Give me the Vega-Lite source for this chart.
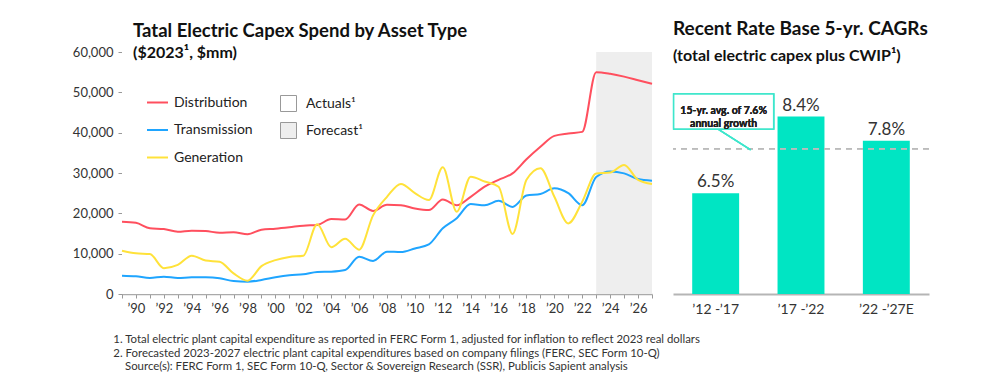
{
  "$schema": "https://vega.github.io/schema/vega-lite/v6.json",
  "background": "white",
  "padding": {"left": 72, "top": 20, "right": 0, "bottom": 0},
  "config": {
    "font": "Lato",
    "view": {"stroke": null},
    "axis": {"labelFont": "Lato", "grid": false},
    "legend": {"labelFont": "Lato"}
  },
  "title": {
    "text": [
      "1. Total electric plant capital expenditure as reported in FERC Form 1, adjusted for inflation to reflect 2023 real dollars",
      "2. Forecasted 2023-2027 electric plant capital expenditures based on company filings (FERC, SEC Form 10-Q)",
      "\u200b\u00a0\u00a0\u00a0\u00a0Source(s): FERC Form 1, SEC Form 10-Q, Sector & Sovereign Research (SSR), Publicis Sapient analysis"
    ],
    "orient": "bottom",
    "anchor": "start",
    "fontSize": 11.4,
    "fontWeight": "normal",
    "color": "#333",
    "lineHeight": 13.5,
    "offset": 18,
    "dx": 41
  },
  "spacing": 14,
  "hconcat": [
    {
      "width": 530,
      "height": 242,
      "title": {
        "text": "Tatal Electric Capex Spend by Asset Type",
        "subtitle": "($2023¹, $mm)",
        "anchor": "start",
        "frame": "group",
        "dx": 11,
        "offset": -15,
        "fontSize": 18.5,
        "fontWeight": "bold",
        "color": "#111",
        "subtitleFontSize": 16,
        "subtitleFontWeight": "bold",
        "subtitleColor": "#111",
        "subtitlePadding": 5
      },
      "resolve": {"axis": {"x": "independent"}},
      "layer": [
        {
          "data": {"values": [
            {"period": "Actuals", "start": 1989, "end": 2023},
            {"period": "Forecast", "start": 2023, "end": 2027}
          ]},
          "mark": {"type": "rect"},
          "encoding": {
            "x": {
              "field": "start", "type": "quantitative",
              "scale": {"domain": [1989, 2027], "nice": false, "zero": false},
              "axis": {
                "orient": "bottom",
                "offset": 0,
                "title": null,
                "values": [1989,1990,1991,1992,1993,1994,1995,1996,1997,1998,1999,2000,2001,2002,2003,2004,2005,2006,2007,2008,2009,2010,2011,2012,2013,2014,2015,2016,2017,2018,2019,2020,2021,2022,2023,2024,2025,2026,2027],
                "labels": false,
                "tickSize": 4,
                "tickColor": "#999",
                "domainColor": "#aaa",
                "domainWidth": 1.5
              }
            },
            "x2": {"field": "end"},
            "y": {
              "datum": 60000, "type": "quantitative",
              "scale": {"domain": [0, 60000], "nice": false},
              "axis": {
                "title": null,
                "values": [0, 10000, 20000, 30000, 40000, 50000, 60000],
                "format": ",.0f",
                "tickSize": 4,
                "tickColor": "#999",
                "domainColor": "#999",
                "labelFontSize": 13,
                "labelColor": "#333",
                "labelPadding": 5
              }
            },
            "y2": {"datum": 0},
            "fill": {
              "field": "period", "type": "nominal",
              "scale": {"domain": ["Actuals", "Forecast"], "range": ["#ffffff", "#eeeeee"]},
              "legend": {
                "orient": "none", "legendX": 158, "legendY": 43, "title": null,
                "symbolType": "square", "symbolSize": 256,
                "symbolStrokeColor": "#999", "symbolStrokeWidth": 1,
                "labelFontSize": 14, "labelColor": "#222",
                "rowPadding": 6, "labelOffset": 9,
                "labelExpr": "datum.label + '¹'"
              }
            }
          }
        },
        {
          "data": {"values": [
            {"year": 1989, "Distribution": 17900, "Transmission": 4540, "Generation": 10740},
            {"year": 1990, "Distribution": 17650, "Transmission": 4380, "Generation": 10080},
            {"year": 1991, "Distribution": 16300, "Transmission": 3970, "Generation": 9920},
            {"year": 1992, "Distribution": 16100, "Transmission": 4300, "Generation": 6400},
            {"year": 1993, "Distribution": 15450, "Transmission": 3970, "Generation": 7200},
            {"year": 1994, "Distribution": 15700, "Transmission": 4130, "Generation": 9500},
            {"year": 1995, "Distribution": 15600, "Transmission": 4130, "Generation": 8300},
            {"year": 1996, "Distribution": 15200, "Transmission": 3900, "Generation": 8000},
            {"year": 1997, "Distribution": 15300, "Transmission": 3200, "Generation": 5100},
            {"year": 1998, "Distribution": 14800, "Transmission": 3050, "Generation": 3300},
            {"year": 1999, "Distribution": 15950, "Transmission": 3470, "Generation": 6900},
            {"year": 2000, "Distribution": 16200, "Transmission": 4130, "Generation": 8400},
            {"year": 2001, "Distribution": 16550, "Transmission": 4630, "Generation": 9200},
            {"year": 2002, "Distribution": 16950, "Transmission": 4880, "Generation": 9500},
            {"year": 2003, "Distribution": 17100, "Transmission": 5450, "Generation": 17300},
            {"year": 2004, "Distribution": 18600, "Transmission": 5540, "Generation": 11600},
            {"year": 2005, "Distribution": 18500, "Transmission": 5950, "Generation": 13700},
            {"year": 2006, "Distribution": 22200, "Transmission": 9250, "Generation": 11000},
            {"year": 2007, "Distribution": 20600, "Transmission": 8200, "Generation": 19500},
            {"year": 2008, "Distribution": 22100, "Transmission": 10500, "Generation": 24100},
            {"year": 2009, "Distribution": 22000, "Transmission": 10400, "Generation": 27300},
            {"year": 2010, "Distribution": 21200, "Transmission": 11300, "Generation": 25000},
            {"year": 2011, "Distribution": 20800, "Transmission": 12300, "Generation": 23300},
            {"year": 2012, "Distribution": 23400, "Transmission": 16300, "Generation": 31400},
            {"year": 2013, "Distribution": 22000, "Transmission": 18800, "Generation": 20400},
            {"year": 2014, "Distribution": 24100, "Transmission": 22300, "Generation": 29100},
            {"year": 2015, "Distribution": 26600, "Transmission": 22000, "Generation": 27900},
            {"year": 2016, "Distribution": 28300, "Transmission": 23100, "Generation": 26600},
            {"year": 2017, "Distribution": 29900, "Transmission": 21600, "Generation": 14900},
            {"year": 2018, "Distribution": 33400, "Transmission": 24400, "Generation": 28300},
            {"year": 2019, "Distribution": 36500, "Transmission": 24800, "Generation": 31200},
            {"year": 2020, "Distribution": 39200, "Transmission": 26200, "Generation": 24100},
            {"year": 2021, "Distribution": 39800, "Transmission": 25000, "Generation": 17500},
            {"year": 2022, "Distribution": 40200, "Transmission": 22000, "Generation": 22900},
            {"year": 2023, "Distribution": 55000, "Transmission": 29000, "Generation": 29900},
            {"year": 2024, "Distribution": 54600, "Transmission": 30400, "Generation": 30100},
            {"year": 2025, "Distribution": 53900, "Transmission": 29900, "Generation": 32000},
            {"year": 2026, "Distribution": 53000, "Transmission": 28500, "Generation": 28300},
            {"year": 2027, "Distribution": 52100, "Transmission": 28100, "Generation": 27300}
          ]},
          "transform": [{"fold": ["Distribution", "Transmission", "Generation"], "as": ["type", "value"]}],
          "mark": {"type": "line", "interpolate": "monotone", "strokeWidth": 2},
          "encoding": {
            "x": {
              "field": "year", "type": "quantitative",
              "axis": {
                "orient": "bottom",
                "offset": 0,
                "title": null,
                "values": [1990,1992,1994,1996,1998,2000,2002,2004,2006,2008,2010,2012,2014,2016,2018,2020,2022,2024,2026],
                "labelExpr": "'’' + substring(toString(datum.value), 2, 4)",
                "labelOverlap": false,
                "labelFlush": false,
                "ticks": false,
                "domain": false,
                "labelFontSize": 13,
                "labelColor": "#333",
                "labelPadding": 8
              }
            },
            "y": {"field": "value", "type": "quantitative"},
            "color": {
              "field": "type", "type": "nominal",
              "scale": {"domain": ["Distribution", "Transmission", "Generation"], "range": ["#ff4f5e", "#1fa5ff", "#ffe23a"]},
              "legend": {
                "orient": "none", "legendX": 24, "legendY": 39, "title": null,
                "symbolType": "stroke", "symbolSize": 440, "symbolStrokeWidth": 2,
                "labelFontSize": 14, "labelColor": "#222",
                "rowPadding": 8.5, "labelOffset": 5
              }
            }
          }
        }
      ]
    },
    {
      "width": 256,
      "height": 242,
      "title": {
        "text": "Recent Rate Base 5-yr. CAGRs",
        "subtitle": "(total electric capex plus CWIP¹)",
        "anchor": "start",
        "frame": "group",
        "offset": -12,
        "fontSize": 19,
        "fontWeight": "bold",
        "color": "#111",
        "subtitleFontSize": 16,
        "subtitleFontWeight": "bold",
        "subtitleColor": "#111",
        "subtitlePadding": 9
      },
      "data": {"values": [
        {"period": "’12 -’17", "cagr": 6.5, "label": "6.5%"},
        {"period": "’17 -’22", "cagr": 8.4, "label": "8.4%"},
        {"period": "’22 -’27E", "cagr": 7.8, "label": "7.8%"}
      ]},
      "layer": [
        {
          "mark": {"type": "bar", "color": "#00e5c3"},
          "encoding": {
            "x": {
              "field": "period", "type": "nominal", "sort": null,
              "scale": {"paddingInner": 0.45, "paddingOuter": 0.225},
              "axis": {
                "title": null, "labelAngle": 0, "ticks": false,
                "domainColor": "#b5b5b5", "domainWidth": 2,
                "labelFontSize": 14, "labelColor": "#333", "labelPadding": 8
              }
            },
            "y": {
              "field": "cagr", "type": "quantitative",
              "scale": {"domain": [4, 10], "zero": false, "nice": false},
              "axis": null
            },
            "y2": {"datum": 4}
          }
        },
        {
          "mark": {"type": "text", "dy": -2, "fontSize": 17, "color": "#333", "baseline": "bottom"},
          "encoding": {
            "x": {"field": "period", "type": "nominal", "sort": null},
            "y": {"field": "cagr", "type": "quantitative"},
            "text": {"field": "label"}
          }
        },
        {
          "mark": {"type": "rule", "strokeDash": [6, 5], "color": "#bbbbbb", "strokeWidth": 1.5},
          "encoding": {"y": {"datum": 7.6}}
        },
        {
          "mark": {
            "type": "point",
            "shape": "M-0.84,-0.35H1.16V0.35H-0.84Z M0.04,0.35L0.7,0.77",
            "size": 10000,
            "filled": false,
            "fill": "white",
            "fillOpacity": 1,
            "stroke": "#3ee6cc",
            "strokeWidth": 1.5,
            "opacity": 1
          },
          "encoding": {
            "x": {"datum": "’12 -’17"},
            "y": {"datum": 8.525}
          }
        },
        {
          "mark": {
            "type": "text", "dx": 8, "fontSize": 10.5, "fontWeight": "bold",
            "color": "#222", "lineBreak": "\n", "lineHeight": 13, "baseline": "middle"
          },
          "encoding": {
            "x": {"datum": "’12 -’17"},
            "y": {"datum": 8.525},
            "text": {"value": "15-yr. avg. of 7.6%\nannual growth"}
          }
        }
      ]
    }
  ]
}
